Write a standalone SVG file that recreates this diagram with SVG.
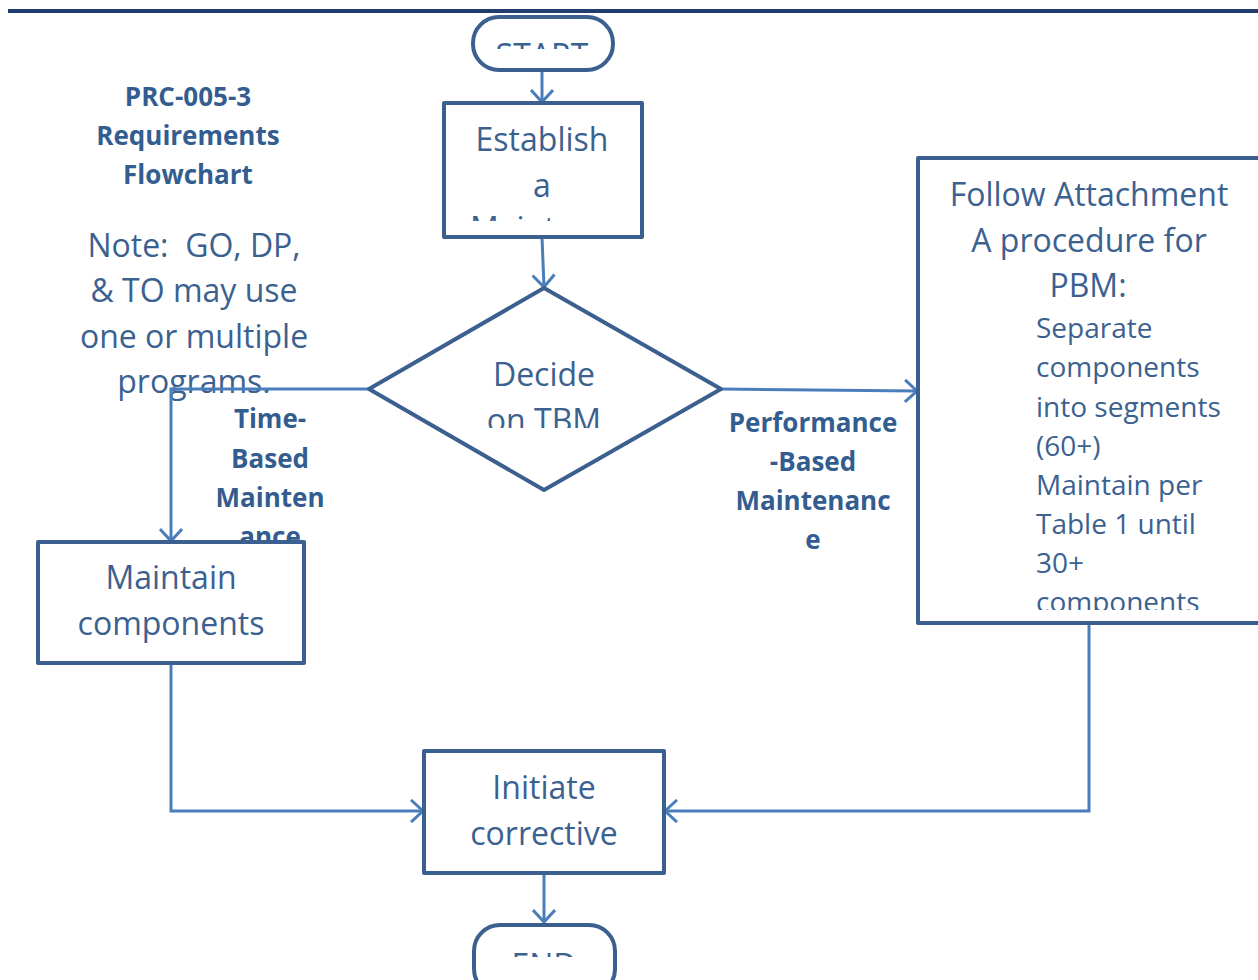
<svg xmlns="http://www.w3.org/2000/svg" width="1258" height="980" viewBox="0 0 1258 980">
<defs>
<style>
.node{fill:#fff;stroke:#3b5f8f;stroke-width:4;stroke-linejoin:round}
.t{font-family:"Open Sans","Liberation Sans",sans-serif;font-size:32px;fill:#3b6190;text-anchor:middle}
.s{font-family:"Open Sans","Liberation Sans",sans-serif;font-size:28px;fill:#3b6190}
.b{font-family:"Open Sans","Liberation Sans",sans-serif;font-size:26px;font-weight:bold;fill:#335d8f;text-anchor:middle}
.c{fill:none;stroke:#4a7ebb;stroke-width:3}
</style>
<marker id="ah" markerUnits="userSpaceOnUse" markerWidth="24" markerHeight="24" viewBox="0 0 24 24" refX="21" refY="12" orient="auto">
<path d="M9,1 L21,12 L9,23" fill="none" stroke="#4a7ebb" stroke-width="3"/>
</marker>
<clipPath id="cStart"><rect x="474" y="18" width="138" height="31"/></clipPath>
<clipPath id="cEst"><rect x="446" y="105" width="194" height="116"/></clipPath>
<clipPath id="cDec"><rect x="400" y="330" width="290" height="98"/></clipPath>
<clipPath id="cFol"><rect x="920" y="160" width="338" height="450"/></clipPath>
<clipPath id="cEnd"><rect x="474" y="926" width="140" height="31"/></clipPath>
</defs>
<rect x="8" y="9" width="1250" height="4" fill="#1f3d6f"/>

<g id="title">
<text class="b" x="188" y="106">PRC-005-3</text>
<text class="b" x="188" y="145">Requirements</text>
<text class="b" x="188" y="184">Flowchart</text>
</g>
<g id="note">
<text class="t" x="194" y="257" xml:space="preserve" style="white-space:pre">Note:  GO, DP,</text>
<text class="t" x="194" y="302">&amp; TO may use</text>
<text class="t" x="194" y="348">one or multiple</text>
<text class="t" x="194" y="393">programs.</text>
</g>
<g id="label-tbm">
<text class="b" x="270" y="428">Time-</text>
<text class="b" x="270" y="468">Based</text>
<text class="b" x="270" y="507">Mainten</text>
<text class="b" x="270" y="546">ance</text>
</g>
<g id="label-pbm">
<text class="b" x="813" y="432">Performance</text>
<text class="b" x="813" y="471">-Based</text>
<text class="b" x="813" y="510">Maintenanc</text>
<text class="b" x="813" y="549">e</text>
</g>

<g id="connectors">
<path class="c" d="M542,71 L542,102" marker-end="url(#ah)"/>
<path class="c" d="M542,237 L544,287" marker-end="url(#ah)"/>
<path class="c" d="M369,389 L171,389 L171,541" marker-end="url(#ah)"/>
<path class="c" d="M721,389 L917,391" marker-end="url(#ah)"/>
<path class="c" d="M171,663 L171,811 L423,811" marker-end="url(#ah)"/>
<path class="c" d="M1089,623 L1089,811 L665,811" marker-end="url(#ah)"/>
<path class="c" d="M544,873 L544,922" marker-end="url(#ah)"/>
</g>

<g id="start">
<rect class="node" x="473" y="17" width="140" height="53" rx="26"/>
<text class="t" x="542" y="67" clip-path="url(#cStart)">START</text>
</g>
<g id="establish">
<rect class="node" x="444" y="103" width="198" height="134"/>
<g clip-path="url(#cEst)">
<text class="t" x="542" y="151">Establish</text>
<text class="t" x="542" y="197">a</text>
<text class="t" x="470" y="240" style="text-anchor:start">Maintenance</text>
</g>
</g>
<g id="decide">
<path class="node" d="M544,288 L721,389 L544,490 L369,389 Z"/>
<g clip-path="url(#cDec)">
<text class="t" x="544" y="386">Decide</text>
<text class="t" x="544" y="432">on TBM</text>
</g>
</g>
<g id="follow">
<rect class="node" x="918" y="158" width="342" height="465"/>
<g clip-path="url(#cFol)">
<text class="t" x="1089" y="206">Follow Attachment</text>
<text class="t" x="1089" y="252">A procedure for</text>
<text class="t" x="1088" y="297">PBM:</text>
<text class="s" x="1036" y="338">Separate</text>
<text class="s" x="1036" y="377">components</text>
<text class="s" x="1036" y="417">into segments</text>
<text class="s" x="1036" y="456">(60+)</text>
<text class="s" x="1036" y="495">Maintain per</text>
<text class="s" x="1036" y="534">Table 1 until</text>
<text class="s" x="1036" y="573">30+</text>
<text class="s" x="1036" y="612">components</text>
</g>
</g>
<g id="maintain">
<rect class="node" x="38" y="542" width="266" height="121"/>
<text class="t" x="171" y="589">Maintain</text>
<text class="t" x="171" y="635">components</text>
</g>
<g id="initiate">
<rect class="node" x="424" y="751" width="240" height="122"/>
<text class="t" x="544" y="799">Initiate</text>
<text class="t" x="544" y="845">corrective</text>
</g>
<g id="end">
<rect class="node" x="474" y="925" width="141" height="70" rx="26"/>
<text class="t" x="544" y="977" clip-path="url(#cEnd)">END</text>
</g>
</svg>
